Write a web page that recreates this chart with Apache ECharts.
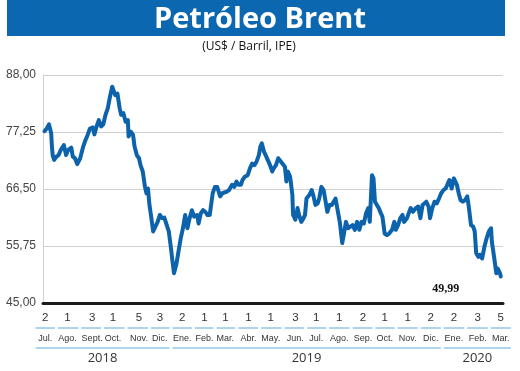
<!DOCTYPE html>
<html>
<head>
<meta charset="utf-8">
<script src="https://cdn.jsdelivr.net/npm/echarts@6/dist/echarts.min.js"></script>
<style>
html,body{margin:0;padding:0;background:#fff;}
#chart{width:520px;height:371px;}
</style>
</head>
<body>
<div id="chart"></div>
<script>
// ---- Data ----
const startDate = '2018-07-02';
// day offsets from startDate
const dayOffsets = [-1,2,5,8,9,10,12,15,18,21,25,28,31,35,37,40,43,47,51,54,57,60,64,66,69,72,75,78,81,84,87,90,92,94,97,100,102,105,108,111,112,115,118,120,123,126,128,131,134,136,138,140,142,145,148,151,154,157,160,
162,166,169,171,173,176,179,182,185,188,191,194,197,200,204,206,209,212,215,218,221,225,228,231,235,238,240,244,247,251,254,257,260,263,265,268,272,275,278,281,284,287,289,291,294,297,299,302,305,307,310,313,315,
322,324,326,329,332,333,336,339,341,344,347,349,351,355,358,360,363,366,368,371,374,376,379,382,385,387,390,392,394,396,399,401,404,407,409,413,416,419,422,425,428,431,434,436,439,441,443,445,448,451,453,456,459,462,466,469,471,474,
477,480,482,486,489,491,494,498,501,504,507,509,512,515,517,520,523,526,529,532,535,538,541,543,546,549,551,553,556,558,561,564,567,569,572,575,577,579,582,584,587,590,593,596,599,600,603,606,608,611,612];
const prices = [77.4,77.9,78.7,77.0,74.5,72.9,72.0,72.6,72.9,73.9,74.8,72.9,73.9,74.3,72.6,72.3,71.2,72.3,74.5,75.7,76.7,77.9,78.1,76.8,78.3,79.5,78.3,78.7,80.5,81.7,83.9,85.8,86.1,84.2,84.5,81.7,80.5,80.8,79.2,79.5,76.4,77.3,76.7,74.5,72.9,72.3,71.0,69.8,66.9,65.7,66.6,63.5,61.6,58.5,59.4,60.3,61.6,61.0,61.1,
61.3,58.5,55.3,52.8,50.6,52.2,54.7,57.2,59.1,61.6,59.1,61.0,62.5,61.3,61.6,60.0,61.9,62.5,62.2,61.6,61.6,65.7,66.9,66.9,65.1,65.7,65.4,66.0,66.3,67.3,66.9,67.9,67.3,67.3,68.2,68.8,69.1,70.4,71.3,71.0,71.7,72.9,74.5,75.1,73.5,72.6,72.3,71.0,69.8,70.4,71.0,72.3,72.6,
70.7,67.9,69.8,68.8,65.4,61.6,60.7,62.9,61.6,60.3,61.0,61.6,64.7,65.4,66.3,65.4,63.5,63.8,64.7,66.9,66.3,64.7,62.2,63.5,63.5,63.8,64.7,64.7,61.6,60.0,56.3,57.8,60.3,59.1,58.8,59.7,58.8,60.3,58.8,60.3,60.0,61.9,62.9,60.3,69.1,68.5,64.1,64.4,62.9,61.9,61.3,58.1,57.8,58.1,58.8,60.3,58.8,59.7,
61.0,61.6,60.3,61.0,62.2,62.9,62.2,62.9,63.2,61.0,63.5,63.8,64.1,63.2,61.0,62.9,64.1,63.8,64.7,65.7,66.3,66.6,67.6,68.2,66.6,68.5,68.8,67.3,65.4,64.4,64.1,64.4,65.1,63.2,59.7,59.4,58.5,54.4,53.7,54.1,53.4,55.6,57.2,58.5,59.1,56.6,53.7,50.6,51.5,50.6,49.99];
// tick dates (first value shown each month) and labels
const tickDates = ['2018-07-02','2018-08-01','2018-09-03','2018-10-01','2018-11-05','2018-12-03',
  '2019-01-02','2019-02-01','2019-03-01','2019-04-01','2019-05-01','2019-06-03','2019-07-01','2019-08-01',
  '2019-09-02','2019-10-01','2019-11-01','2019-12-02','2020-01-02','2020-02-03','2020-03-05'];
const monthLabels = ['Jul.','Ago.','Sept.','Oct.','Nov.','Dic.','Ene.','Feb.','Mar.','Abr.','May.','Jun.',
  'Jul.','Ago.','Sep.','Oct.','Nov.','Dic.','Ene.','Feb.','Mar.'];
const yearLabels = ['2018','2019','2020'];
const yTicks = [45, 55.75, 66.5, 77.25, 88];
const titleText = 'Petróleo Brent';
const subtitleText = '(US$ / Barril, IPE)';

// ---- Build ----
const DAY = 86400000;
const toTs = s => { const p = s.split('-').map(Number); return Date.UTC(p[0], p[1]-1, p[2]); };
const t0 = toTs(startDate);
const seriesData = dayOffsets.map((d, i) => [t0 + d*DAY, prices[i]]);
const tickTs = tickDates.map(toTs);
const tickDayNums = tickDates.map(s => String(Number(s.split('-')[2])));
const tickYears = tickDates.map(s => s.split('-')[0]);
const xMin = tickTs[0] - 3*DAY, xMax = tickTs[tickTs.length-1] + 3*DAY;
const findTick = v => tickTs.findIndex(t => Math.abs(t - v) < DAY/2);
// year label anchor = midpoint of the year's first and last month ticks
const yearTs = yearLabels.map(y => {
  const idx = tickYears.map((yy,i)=>yy===y?i:-1).filter(i=>i>=0);
  return (tickTs[idx[0]] + tickTs[idx[idx.length-1]]) / 2;
});

const fmt2 = v => v.toFixed(2).replace('.', ',');
const narrow = "'Liberation Sans Narrow','Liberation Sans',sans-serif";
const baseX = {
  type: 'value', min: xMin, max: xMax, position: 'bottom', scale: true,
  axisTick: {show: false}, splitLine: {show: false}, axisLine: {show: false}
};

const chart = echarts.init(document.getElementById('chart'), null, {renderer: 'canvas'});
chart.setOption({
  animation: false,
  backgroundColor: '#fff',
  title: [{
    text: titleText, left: 'center', top: 0,
    textStyle: {color: '#fff', fontFamily: "'Open Sans'", fontWeight: 'bold', fontSize: 29}
  }],
  grid: {left: 43, right: 17, top: 75, bottom: 68},
  xAxis: [
    Object.assign({}, baseX, {
      axisLine: {show: true, lineStyle: {color: '#1a1a1a', width: 3}},
      axisLabel: {customValues: tickTs, margin: 9, fontSize: 11.5, color: '#333', fontFamily: narrow,
        formatter: v => { const i = findTick(v); return i >= 0 ? tickDayNums[i] : ''; }}
    }),
    Object.assign({}, baseX, {
      axisLabel: {customValues: tickTs, margin: 31, fontSize: 9, color: '#333', fontFamily: narrow,
        formatter: v => { const i = findTick(v); return i >= 0 ? monthLabels[i] : ''; }}
    }),
    Object.assign({}, baseX, {
      axisLabel: {customValues: yearTs, margin: 49, fontSize: 13, color: '#333', fontFamily: "'Open Sans',sans-serif",
        formatter: v => { const i = yearTs.findIndex(t => Math.abs(t - v) < DAY); return i >= 0 ? yearLabels[i] : ''; }}
    })
  ],
  yAxis: {
    type: 'value', min: yTicks[0], max: yTicks[yTicks.length-1], interval: yTicks[1]-yTicks[0],
    axisLine: {show: true, lineStyle: {color: '#d0d0d0', width: 1}},
    axisTick: {show: false},
    splitLine: {lineStyle: {color: '#d0d0d0', width: 1}},
    axisLabel: {margin: 7, fontSize: 12, color: '#444', fontFamily: narrow, formatter: fmt2}
  },
  series: [{
    type: 'line', data: seriesData, showSymbol: false, z: 3,
    lineStyle: {color: '#0c63ab', width: 4, join: 'round', cap: 'round'},
    markPoint: {
      symbol: 'rect', symbolSize: 0,
      data: [{coord: seriesData[seriesData.length-1], value: prices[prices.length-1]}],
      label: {show: true, position: 'inside', offset: [-55, 12], formatter: p => fmt2(p.value),
        color: '#111', fontFamily: "'Liberation Serif',serif", fontWeight: 'bold', fontSize: 12}
    }
  }]
});

// decorations derived from the axis scale
const px = t => chart.convertToPixel({xAxisIndex: 0}, t);
const pos = tickTs.map(px);
const segs = pos.map((p, i) => {
  const l = i === 0 ? p - (pos[1]-pos[0])/2 : (pos[i-1]+p)/2;
  const r = i === pos.length-1 ? p + (p-pos[i-1])/2 : (p+pos[i+1])/2;
  return [l + 1.5, r - 1.5];
});
const graphics = [
  {type: 'rect', z: -1, shape: {x: 7, y: 0, width: 498, height: 36}, style: {fill: '#0b67b0'}},
  {type: 'text', style: {text: subtitleText, x: 249, y: 47, align: 'center', verticalAlign: 'middle',
    fill: '#111', font: "12px 'Open Sans', sans-serif"}}
];
const gridBottom = chart.convertToPixel({yAxisIndex: 0}, yTicks[0]);
segs.forEach(s => graphics.push({type: 'line', shape: {x1: s[0], y1: gridBottom + 25, x2: s[1], y2: gridBottom + 25},
  style: {stroke: '#5aaad6', lineWidth: 1}}));
yearLabels.forEach(y => {
  const idx = tickYears.map((yy,i)=>yy===y?i:-1).filter(i=>i>=0);
  const l = segs[idx[0]][0], r = segs[idx[idx.length-1]][1];
  graphics.push({type: 'line', shape: {x1: l, y1: gridBottom + 45, x2: r, y2: gridBottom + 45},
    style: {stroke: '#5aaad6', lineWidth: 1}});
});
chart.setOption({graphic: graphics});
</script>
</body>
</html>
